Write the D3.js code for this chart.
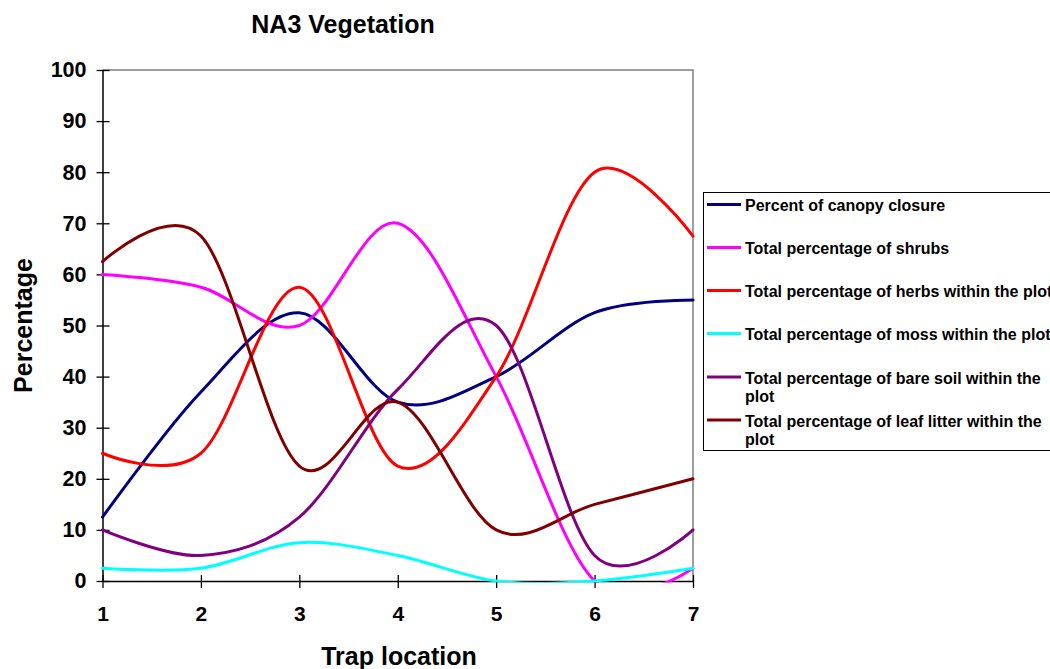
<!DOCTYPE html>
<html>
<head>
<meta charset="utf-8">
<script src="https://cdn.jsdelivr.net/npm/d3@7"></script>
<style>
  html, body { margin: 0; padding: 0; background: #fff; }
  svg { display: block; font-family: "Liberation Sans", Arial, sans-serif; }
</style>
</head>
<body>
<svg id="chart" width="1050" height="669"></svg>
<script>
// Trap locations along the transect
const trapLocations = [1, 2, 3, 4, 5, 6, 7];

// Percentages recorded at each trap
const canopyClosure = [12.5, 37, 52.5, 35, 40, 52.5, 55];
const shrubs        = [60, 57.5, 50, 70, 40, 0, 2.5];
const herbs         = [25, 25, 57.5, 22.5, 40, 80, 67.5];
const moss          = [2.5, 2.5, 7.5, 5, 0, 0, 2.5];
const bareSoil      = [10, 5, 12.5, 37.5, 50, 5, 10];
const leafLitter    = [62.5, 67.5, 22.5, 35, 10, 15, 20];

const seriesNames = [
  "Percent of canopy closure",
  "Total percentage of shrubs",
  "Total percentage of herbs within the plot",
  "Total percentage of moss within the plot",
  "Total percentage of bare soil within the plot",
  "Total percentage of leaf litter within the plot"
];
const seriesColors = ["#000080", "#FF00FF", "#FF0000", "#00FFFF", "#800080", "#800000"];
const yTicks = [0, 10, 20, 30, 40, 50, 60, 70, 80, 90, 100];

const seriesValues = [canopyClosure, shrubs, herbs, moss, bareSoil, leafLitter];
const series = seriesNames.map((name, i) => ({
  name, color: seriesColors[i],
  points: trapLocations.map((t, j) => ({ x: t, y: seriesValues[i][j] }))
}));

const svg = d3.select("#chart");
const plotLeft = 102.5, plotRight = 693, plotTop = 70, plotBottom = 581;

const x = d3.scaleLinear().domain([1, 7]).range([plotLeft, plotRight]);
const y = d3.scaleLinear().domain([0, 100]).range([plotBottom, plotTop]);

// Plot frame: grey top and right edges
svg.append("path")
  .attr("d", `M${plotLeft},${plotTop}H${plotRight}V${plotBottom}`)
  .attr("fill", "none").attr("stroke", "#808080").attr("stroke-width", 1.5);

// Y axis with ticks crossing the axis line
const yAxis = svg.append("g").attr("transform", `translate(${plotLeft},0)`)
  .call(d3.axisLeft(y).tickValues(yTicks).tickSizeInner(6).tickSizeOuter(0).tickPadding(10));
yAxis.select(".domain").attr("stroke", "#000").attr("stroke-width", 1.5);
yAxis.selectAll(".tick line").attr("stroke", "#000").attr("stroke-width", 1.3).attr("x2", 7).attr("x1", -6);
yAxis.selectAll(".tick text")
  .attr("font-size", 21.5).attr("font-weight", "bold").attr("fill", "#000")
  .attr("font-family", "Liberation Sans, Arial, sans-serif").attr("x", -16);

// X axis
const xAxis = svg.append("g").attr("transform", `translate(0,${plotBottom})`)
  .call(d3.axisBottom(x).tickValues(trapLocations).tickFormat(d3.format("d")).tickSizeInner(7).tickSizeOuter(0).tickPadding(18));
xAxis.select(".domain").attr("stroke", "#000").attr("stroke-width", 1.5);
xAxis.selectAll(".tick line").attr("stroke", "#000").attr("stroke-width", 1.3).attr("y1", -6).attr("y2", 7);
xAxis.selectAll(".tick text")
  .attr("font-size", 21).attr("font-weight", "bold").attr("fill", "#000")
  .attr("font-family", "Liberation Sans, Arial, sans-serif");

// Clip the smoothed lines to the plot area
svg.append("clipPath").attr("id", "plotClip")
  .append("rect").attr("x", plotLeft - 2).attr("y", plotTop - 2)
  .attr("width", plotRight - plotLeft + 4).attr("height", plotBottom - plotTop + 3.5);

const line = d3.line()
  .x(d => x(d.x)).y(d => y(d.y))
  .curve(d3.curveCatmullRom.alpha(0));

svg.append("g").attr("clip-path", "url(#plotClip)")
  .selectAll("path").data(series).join("path")
  .attr("d", d => line(d.points))
  .attr("fill", "none")
  .attr("stroke", d => d.color)
  .attr("stroke-width", 3)
  .attr("stroke-linejoin", "round")
  .attr("stroke-linecap", "round");

// Titles
svg.append("text").attr("x", 343).attr("y", 33)
  .attr("text-anchor", "middle").attr("font-size", 25).attr("font-weight", "bold")
  .text("NA3 Vegetation");
svg.append("text").attr("x", 399).attr("y", 665)
  .attr("text-anchor", "middle").attr("font-size", 25).attr("font-weight", "bold")
  .text("Trap location");
svg.append("text").attr("transform", "translate(32,325.5) rotate(-90)")
  .attr("text-anchor", "middle").attr("font-size", 25).attr("font-weight", "bold")
  .text("Percentage");

// Legend
const legend = svg.append("g");
legend.append("rect").attr("x", 703.5).attr("y", 192.5)
  .attr("width", 400).attr("height", 258)
  .attr("fill", "#fff").attr("stroke", "#000").attr("stroke-width", 1);

const legendRows = [
  ["Percent of canopy closure"],
  ["Total percentage of shrubs"],
  ["Total percentage of herbs within the plot"],
  ["Total percentage of moss within the plot"],
  ["Total percentage of bare soil within the", "plot"],
  ["Total percentage of leaf litter within the", "plot"]
];
const rowBaselines = [211, 254, 297, 340, 383.5, 426.5];
legendRows.forEach((lines, i) => {
  const g = legend.append("g");
  g.append("line")
    .attr("x1", 707).attr("x2", 741)
    .attr("y1", rowBaselines[i] - 6.5).attr("y2", rowBaselines[i] - 6.5)
    .attr("stroke", series[i].color).attr("stroke-width", 3);
  const t = g.append("text").attr("x", 745).attr("y", rowBaselines[i])
    .attr("font-size", 16).attr("font-weight", "bold").attr("fill", "#000");
  lines.forEach((s, k) => {
    t.append("tspan").attr("x", 745).attr("dy", k === 0 ? 0 : 18.5).text(s);
  });
});
</script>
</body>
</html>
